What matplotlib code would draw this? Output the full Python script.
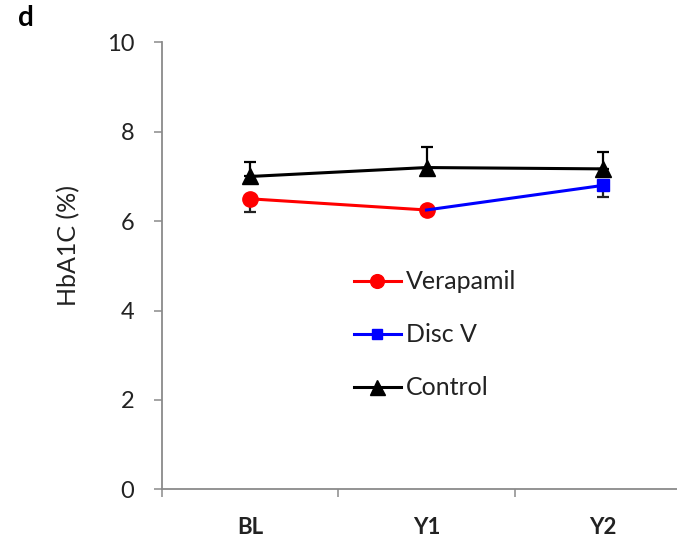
import matplotlib
matplotlib.use('Agg')
import matplotlib.pyplot as plt
from matplotlib.ticker import FixedLocator

plt.rcParams['font.family'] = ['Lato', 'DejaVu Sans']

# HbA1C (%) at each visit
visits = ['BL', 'Y1', 'Y2']
control = [7.0, 7.2, 7.17]
control_err = [0.32, 0.47, 0.37]
verapamil = [6.5, 6.25]          # BL, Y1
verapamil_err = [0.3, 0.1]
disc_v = [6.25, 6.8]             # Y1, Y2 (after stopping verapamil)
disc_v_err = [0.1, 0.27]

fig = plt.figure(figsize=(6.77, 5.43), dpi=100)
ax = fig.add_axes([0.2393, 0.0989, 0.7814, 0.823])

x = list(range(len(visits)))
grey = '#8a8a8a'
dark = '#222222'

# error bars: plus side for control, minus side for the treated group
ax.errorbar(x, control, yerr=[[0] * 3, control_err], fmt='none',
            ecolor='black', elinewidth=1.6, capsize=4, capthick=1.6, zorder=2)
ax.errorbar(x[:2], verapamil, yerr=[verapamil_err, [0, 0]], fmt='none',
            ecolor=dark, elinewidth=1.6, capsize=4, capthick=1.6, zorder=2)
ax.errorbar(x[1:], disc_v, yerr=[disc_v_err, [0, 0]], fmt='none',
            ecolor=dark, elinewidth=1.6, capsize=4, capthick=1.6, zorder=2)

ax.plot(x, control, color='black', lw=2.2, marker='^', ms=12,
        label='Control', zorder=3)
ax.plot(x[:2], verapamil, color='#ff0000', lw=2.2, marker='o', ms=11,
        label='Verapamil', zorder=4)
ax.plot(x[1:], disc_v, color='#0000ff', lw=2.2, marker='s', ms=8,
        markevery=[1], label='Disc V', zorder=5)

ax.set_xlim(-0.5, 2.5)
ax.set_ylim(0, 10)
ax.set_yticks([0, 2, 4, 6, 8, 10])
ax.set_xticks(x)
ax.set_xticklabels(visits)
ax.xaxis.set_minor_locator(FixedLocator([-0.5, 0.5, 1.5]))

for side in ['top', 'right']:
    ax.spines[side].set_visible(False)
for side in ['left', 'bottom']:
    ax.spines[side].set_color(grey)
    ax.spines[side].set_linewidth(1.3)

ax.tick_params(axis='y', length=6, width=1.1, color=grey, pad=14,
               labelsize=17, labelcolor=dark)
ax.tick_params(axis='x', which='major', length=0, pad=20,
               labelsize=16, labelcolor=dark)
ax.tick_params(axis='x', which='minor', length=6, width=1.1, color=grey)
for lab in ax.get_xticklabels():
    lab.set_fontweight('bold')

ax.set_ylabel('HbA1C (%)', fontsize=18, color=dark)
ax.yaxis.set_label_coords(-0.155, 0.546)

handles, labels = ax.get_legend_handles_labels()
order = [1, 2, 0]
leg = ax.legend([handles[i] for i in order], [labels[i] for i in order],
                loc='upper left', bbox_to_anchor=(0.504, 0.525),
                bbox_transform=fig.transFigure, frameon=False, fontsize=18,
                borderpad=0, handlelength=1.9, handletextpad=0.2,
                labelspacing=1.2, markerscale=0.9)
for t in leg.get_texts():
    t.set_color(dark)

fig.text(0.038, 0.967, 'd', fontsize=20, fontweight='bold', ha='center',
         va='center')

fig.savefig('out.png', dpi=100)
